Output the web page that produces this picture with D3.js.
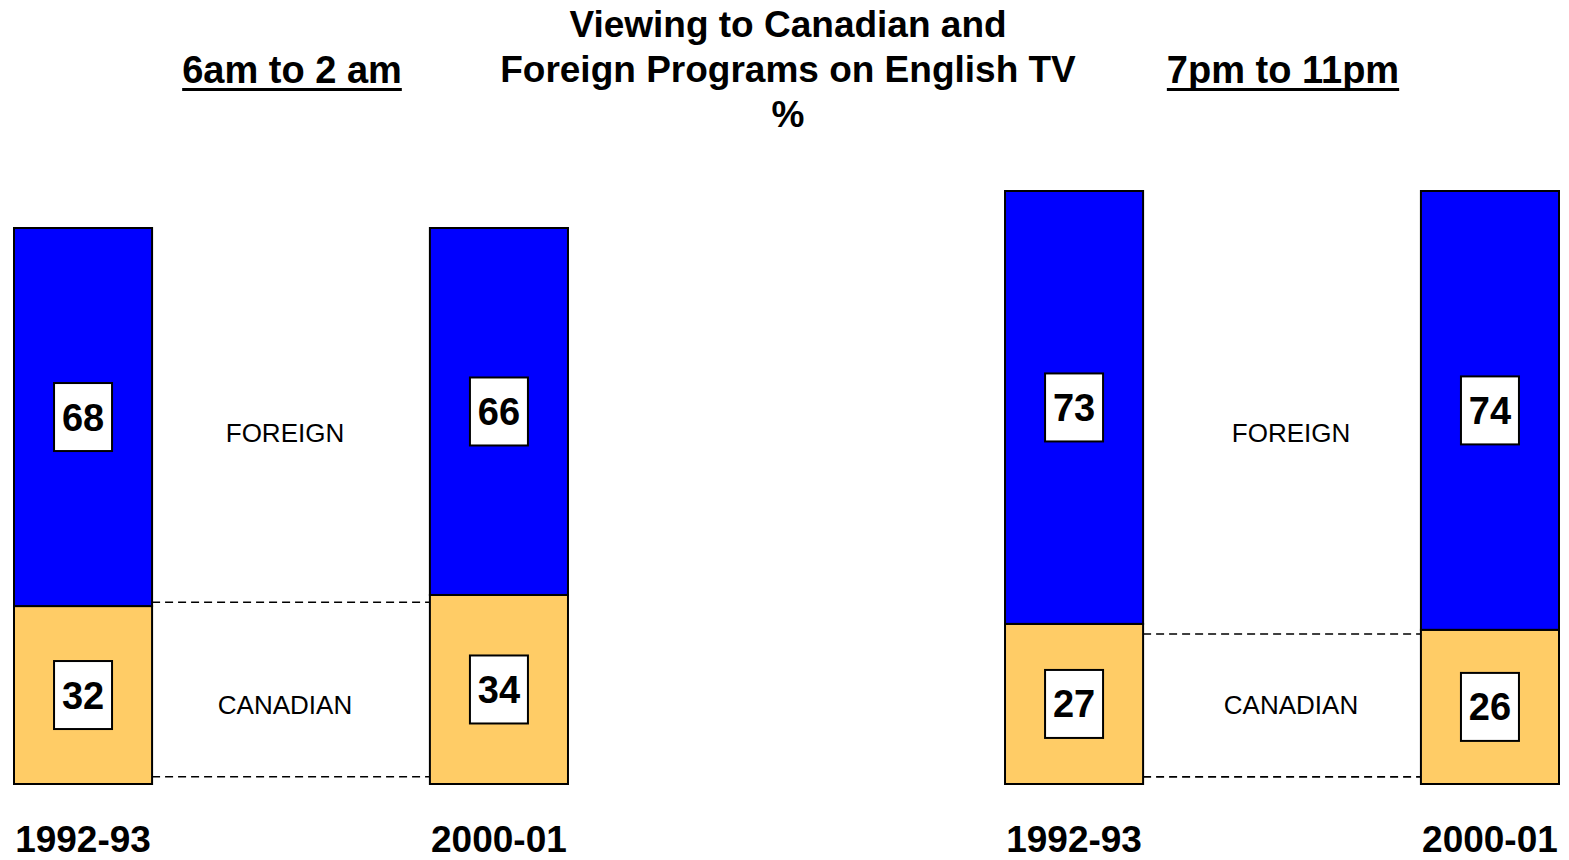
<!DOCTYPE html>
<html>
    <head>
        <title>Viewing to Canadian and Foreign Programs</title>
        <script src="https://d3js.org/d3.v7.min.js"></script>
        <style>
            body { margin: 0; background: #fff; }
            text { font-family: "Liberation Sans", Arial, sans-serif; fill: #000; }
        </style>
    </head>

    <body>
        <div id="my_dataviz"></div>
    </body>

    <script>
        // the data
        var titleLines = ["Viewing to Canadian and", "Foreign Programs on English TV", "%"]
        var periods = ["6am to 2 am", "7pm to 11pm"]
        var years = ["1992-93", "2000-01"]
        var canadian = [[32, 34], [27, 26]]
        var foreign = [[68, 66], [73, 74]]
        var segmentNames = ["FOREIGN", "CANADIAN"]
        // where the dashed connectors sit, in % of each panel
        var connectorLevels = [[32.7, 1.3], [25.3, 1.2]]

        var width = 1569
        var height = 860
        var barBottom = 784
        var barTops = [228, 191] // each panel has its own scale
        var nameShift = [-6, 9]  // segment names are not quite centred

        var svg = d3.select("#my_dataviz")
            .append("svg")
            .attr("width", width)
            .attr("height", height)

        // title
        svg.selectAll(".title")
            .data(titleLines)
            .enter().append("text")
            .attr("class", "title")
            .attr("x", 788)
            .attr("y", function(d, i) { return 37 + i * 45 })
            .attr("text-anchor", "middle")
            .style("font-size", "37px")
            .style("font-weight", "bold")
            .text(function(d) { return d })

        // one band per time period
        var panelX = d3.scaleBand()
            .domain(periods)
            .range([14, 1559])
            .paddingInner(0.441)

        periods.forEach(function(period, p) {
            var g = svg.append("g")
                .attr("transform", "translate(" + panelX(period) + ",0)")

            var x = d3.scaleBand()
                .domain(years)
                .range([0, panelX.bandwidth()])
                .paddingInner(0.668)

            var y = d3.scaleLinear()
                .domain([0, 100])
                .range([barBottom, barTops[p]])

            var mid = panelX.bandwidth() / 2

            // underlined period heading
            var head = g.append("text")
                .attr("x", mid + 1)
                .attr("y", 83)
                .attr("text-anchor", "middle")
                .style("font-size", "38px")
                .style("font-weight", "bold")
                .text(period)
            var hw = head.node().getComputedTextLength()
            g.append("line")
                .attr("x1", mid + 1 - hw / 2).attr("x2", mid + 1 + hw / 2)
                .attr("y1", 89.5).attr("y2", 89.5)
                .attr("stroke", "#000")
                .attr("stroke-width", 3)

            var rows = years.map(function(yr, i) {
                return { year: yr, canadian: canadian[p][i], foreign: foreign[p][i] }
            })

            // dashed connectors between the two bars
            g.selectAll(".dash")
                .data(connectorLevels[p])
                .enter().append("line")
                .attr("x1", x(years[0]) + x.bandwidth())
                .attr("x2", x(years[1]))
                .attr("y1", function(d) { return y(d) })
                .attr("y2", function(d) { return y(d) })
                .attr("stroke", "#000")
                .attr("stroke-width", 1.6)
                .attr("stroke-dasharray", "8,5")

            var stack = d3.stack().keys(["canadian", "foreign"])(rows)
            var colors = { canadian: "#FFCC66", foreign: "#0000FF" }

            stack.forEach(function(layer) {
                g.selectAll(".bar-" + layer.key)
                    .data(layer)
                    .enter().append("rect")
                    .attr("x", function(d) { return x(d.data.year) })
                    .attr("y", function(d) { return y(d[1]) })
                    .attr("width", x.bandwidth())
                    .attr("height", function(d) { return y(d[0]) - y(d[1]) })
                    .attr("fill", colors[layer.key])
                    .attr("stroke", "#000")
                    .attr("stroke-width", 2)

                // white value boxes in the middle of each segment
                var boxes = g.selectAll(".box-" + layer.key)
                    .data(layer)
                    .enter().append("g")
                    .attr("transform", function(d) {
                        var cx = x(d.data.year) + x.bandwidth() / 2
                        var cy = (y(d[0]) + y(d[1])) / 2
                        return "translate(" + cx + "," + cy + ")"
                    })
                boxes.append("rect")
                    .attr("x", -29).attr("y", -34)
                    .attr("width", 58).attr("height", 68)
                    .attr("fill", "#fff")
                    .attr("stroke", "#000")
                    .attr("stroke-width", 2)
                boxes.append("text")
                    .attr("text-anchor", "middle")
                    .attr("y", 13.5)
                    .style("font-size", "38px")
                    .style("font-weight", "bold")
                    .text(function(d) { return d[1] - d[0] })
            })

            // segment names between the bars
            g.selectAll(".seg")
                .data(segmentNames)
                .enter().append("text")
                .attr("x", mid + nameShift[p])
                .attr("y", function(d, i) { return i == 0 ? 442 : 714 })
                .attr("text-anchor", "middle")
                .style("font-size", "26px")
                .text(function(d) { return d })

            // year labels under the bars
            g.selectAll(".year")
                .data(years)
                .enter().append("text")
                .attr("x", function(d) { return x(d) + x.bandwidth() / 2 })
                .attr("y", 852)
                .attr("text-anchor", "middle")
                .style("font-size", "37px")
                .style("font-weight", "bold")
                .text(function(d) { return d })
        })
    </script>
</html>
